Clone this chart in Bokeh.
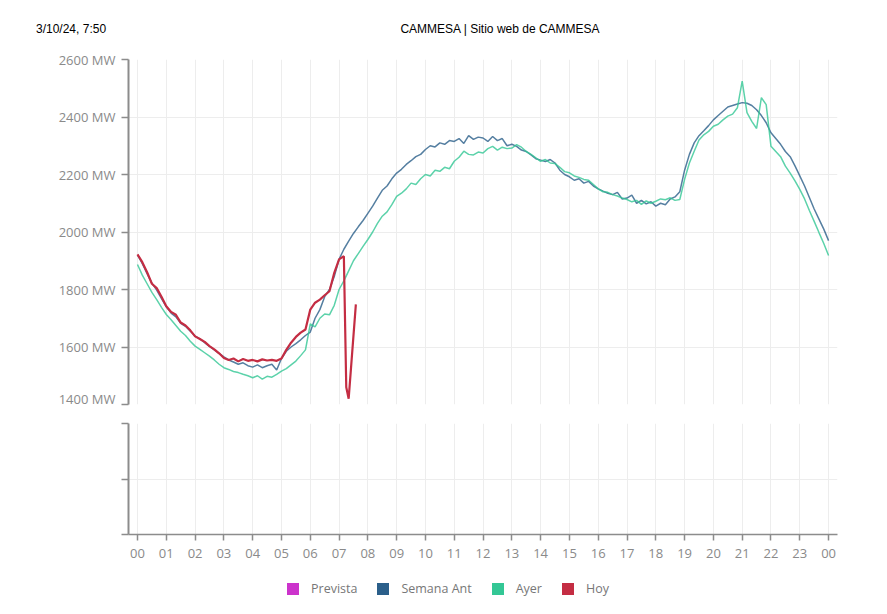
from bokeh.plotting import figure
from bokeh.layouts import column
from bokeh.models import (FixedTicker, Grid, LinearAxis, Legend, LegendItem, Range1d,
                          ColumnDataSource, Div)
from bokeh.embed import file_html
from bokeh.resources import INLINE

# ---------------- data ----------------
hour_labels = ["00", "01", "02", "03", "04", "05", "06", "07", "08", "09", "10", "11",
               "12", "13", "14", "15", "16", "17", "18", "19", "20", "21", "22", "23", "00"]
y_ticks = [1400, 1600, 1800, 2000, 2200, 2400, 2600]
series_names = ["Prevista", "Semana Ant", "Ayer", "Hoy"]
series_colors = ["#cc33cc", "#2b5f8a", "#33c795", "#c42d43"]
header_left = "3/10/24, 7:50"
header_center = "CAMMESA | Sitio web de CAMMESA"

# 10-minute samples, 00:00 .. 24:00
step_minutes = 10
semana_ant = [
    1920, 1890, 1855, 1822, 1798, 1768,
    1740, 1718, 1705, 1682, 1672, 1655,
    1638, 1628, 1615, 1602, 1590, 1578,
    1566, 1555, 1548, 1540, 1545, 1535,
    1530, 1538, 1528, 1535, 1540, 1520,
    1560, 1585, 1600, 1612, 1625, 1640,
    1652, 1700, 1730, 1775, 1800, 1845,
    1905, 1940, 1968, 1995, 2018, 2040,
    2065, 2090, 2118, 2145, 2160, 2185,
    2205, 2218, 2235, 2248, 2262, 2270,
    2287, 2300, 2296, 2310, 2305, 2318,
    2315, 2325, 2308, 2335, 2322, 2330,
    2327, 2315, 2332, 2318, 2325, 2300,
    2305, 2298, 2285, 2280, 2268, 2255,
    2250, 2245, 2252, 2240, 2215, 2200,
    2192, 2180, 2185, 2170, 2176, 2160,
    2150, 2142, 2135, 2130, 2138, 2115,
    2118, 2128, 2100, 2110, 2098, 2105,
    2090, 2100, 2095, 2115, 2122, 2140,
    2215, 2270, 2310, 2335, 2352, 2370,
    2390, 2405, 2420, 2435, 2440, 2445,
    2450, 2448, 2440, 2425, 2405, 2380,
    2345, 2325, 2305, 2280, 2262, 2230,
    2195, 2160, 2120, 2080, 2045, 2010,
    1970,
]
ayer = [
    1887, 1850, 1820, 1790, 1765, 1738,
    1713, 1695, 1675, 1655, 1640, 1620,
    1603, 1592, 1580, 1568, 1555, 1540,
    1528, 1522, 1515, 1511, 1505, 1500,
    1493, 1500, 1488, 1498, 1495, 1505,
    1516, 1525, 1538, 1551, 1570, 1590,
    1680, 1670, 1700, 1715, 1712, 1745,
    1800, 1830, 1865, 1900, 1925, 1950,
    1974, 2000, 2030, 2055, 2070, 2095,
    2124, 2135, 2150, 2170, 2165, 2185,
    2200, 2195, 2215, 2211, 2225, 2220,
    2246, 2260, 2281, 2270, 2268, 2278,
    2275, 2290, 2298, 2285, 2295, 2290,
    2292, 2304, 2295, 2280, 2270, 2258,
    2246, 2252, 2240, 2238, 2225, 2210,
    2206, 2195, 2190, 2183, 2180, 2165,
    2150, 2140, 2138, 2130, 2125, 2118,
    2113, 2105, 2110, 2096, 2108, 2100,
    2107, 2115, 2112, 2119, 2110, 2113,
    2183, 2240, 2281, 2320, 2338, 2350,
    2368, 2375, 2390, 2403, 2410, 2432,
    2525, 2415, 2385, 2360, 2467, 2443,
    2298, 2280, 2262, 2229, 2205, 2178,
    2148, 2115, 2075, 2037, 1998, 1960,
    1918,
]
# today: minutes after midnight and MW
hoy_minutes = list(range(0, 440, 10)) + [435, 440, 455]
hoy = [
    1922, 1895, 1860, 1820, 1805, 1775,
    1742, 1722, 1712, 1685, 1675, 1658,
    1637, 1628, 1618, 1603, 1592, 1578,
    1562, 1555, 1560, 1550, 1558, 1552,
    1555, 1550, 1557, 1553, 1555, 1552,
    1560, 1590, 1615, 1635, 1650, 1661,
    1730, 1754, 1765, 1780, 1794, 1858,
    1905, 1916,
    1460, 1420, 1748,
]

t_full = [i * step_minutes / 60 for i in range(len(semana_ant))]
t_hoy = [m / 60 for m in hoy_minutes]

FONT = "Open Sans"
AXIS_COLOR = "#8c8c8c"
LABEL_COLOR = "#8a8a8a"
GRID_COLOR = "#ededed"
X0, X1 = -0.3126, 24.31
W = 880
BL, BR = 128, 43

# ---------------- header ----------------
hdr = Div(width=W, height=37, text=(
    '<div style="position:relative;width:%dpx;height:37px;font-family:\'Liberation Sans\';'
    'font-size:12px;color:#000;">'
    '<span style="position:absolute;left:31px;top:16px;">%s</span>'
    '<span style="position:absolute;left:-5px;width:1000px;top:16px;text-align:center;">%s</span>'
    '</div>') % (W, header_left, header_center))

# ---------------- top panel ----------------
p = figure(width=W, height=360, x_range=Range1d(X0, X1), y_range=Range1d(1400, 2600),
           toolbar_location=None, output_backend="svg",
           min_border_left=BL, min_border_right=BR, min_border_top=12, min_border_bottom=3,
           x_axis_location=None, y_axis_location=None, outline_line_color=None)
yax = LinearAxis(ticker=FixedTicker(ticks=y_ticks),
                 major_label_overrides={v: f"{v} MW" for v in y_ticks})
yax.axis_line_color = AXIS_COLOR
yax.axis_line_width = 2
yax.major_tick_line_color = AXIS_COLOR
yax.major_tick_line_width = 1.5
yax.major_tick_out = 7
yax.major_tick_in = 0
yax.minor_tick_line_color = None
yax.major_label_text_font = FONT
yax.major_label_text_font_size = "13px"
yax.major_label_text_color = LABEL_COLOR
yax.major_label_standoff = 6
p.add_layout(yax, "left")
p.xgrid.visible = False
p.ygrid.visible = False
p.add_layout(Grid(dimension=0, ticker=FixedTicker(ticks=list(range(25))), grid_line_color=GRID_COLOR))
p.add_layout(Grid(dimension=1, ticker=FixedTicker(ticks=y_ticks), grid_line_color=GRID_COLOR))

p.line(t_full, semana_ant, line_color=series_colors[1], line_width=1.5, line_alpha=0.8)
p.line(t_full, ayer, line_color=series_colors[2], line_width=1.5, line_alpha=0.8)
p.line(t_hoy, hoy, line_color=series_colors[3], line_width=2.2)

# ---------------- bottom panel ----------------
q = figure(width=W, height=160, x_range=Range1d(X0, X1), y_range=Range1d(0, 2),
           toolbar_location=None, output_backend="svg",
           min_border_left=BL, min_border_right=BR, min_border_top=16, min_border_bottom=33,
           x_axis_location=None, y_axis_location=None, outline_line_color=None)
q.xgrid.visible = False
q.ygrid.visible = False
q.add_layout(Grid(dimension=0, ticker=FixedTicker(ticks=list(range(25))), grid_line_color=GRID_COLOR))
q.add_layout(Grid(dimension=1, ticker=FixedTicker(ticks=[1]), grid_line_color=GRID_COLOR))

qy = LinearAxis(ticker=FixedTicker(ticks=[0, 1, 2]), major_label_overrides={0: "", 1: "", 2: ""})
qy.axis_line_color = AXIS_COLOR
qy.axis_line_width = 2
qy.major_tick_line_color = AXIS_COLOR
qy.major_tick_line_width = 1.5
qy.major_tick_out = 7
qy.major_tick_in = 0
qy.minor_tick_line_color = None
qy.major_label_text_font_size = "1px"
qy.major_label_standoff = 0
q.add_layout(qy, "left")

qx = LinearAxis(ticker=FixedTicker(ticks=list(range(25))),
                major_label_overrides={i: lab for i, lab in enumerate(hour_labels)})
qx.axis_line_color = AXIS_COLOR
qx.axis_line_width = 1.5
qx.major_tick_line_color = AXIS_COLOR
qx.major_tick_line_width = 1.5
qx.major_tick_out = 6
qx.major_tick_in = 0
qx.minor_tick_line_color = None
qx.major_label_text_font = FONT
qx.major_label_text_font_size = "13px"
qx.major_label_text_color = LABEL_COLOR
qx.major_label_standoff = 8
q.add_layout(qx, "below")

# ---------------- legend strip ----------------
lg = figure(width=W, height=37, x_range=Range1d(0, 1), y_range=Range1d(0, 1),
            toolbar_location=None, output_backend="svg",
            min_border_left=BL, min_border_right=BR, min_border_top=0, min_border_bottom=0,
            x_axis_location=None, y_axis_location=None, outline_line_color=None)
lg.xgrid.visible = False
lg.ygrid.visible = False
items = []
for name, col in zip(series_names, series_colors):
    src = ColumnDataSource(dict(l=[float("nan")], r=[float("nan")], b=[float("nan")], t=[float("nan")]))
    r = lg.quad(left="l", right="r", bottom="b", top="t", source=src, fill_color=col, line_color=None)
    items.append(LegendItem(label=name, renderers=[r]))
leg = Legend(items=items, orientation="horizontal", location=(157, 7))
leg.glyph_width = 15
leg.glyph_height = 15
leg.label_text_font = FONT
leg.label_text_font_size = "12.5px"
leg.label_text_color = "#777777"
leg.label_standoff = 11
leg.spacing = 18
leg.padding = 4
leg.margin = 0
leg.border_line_color = None
leg.background_fill_alpha = 0
lg.add_layout(leg, "center")

layout = column(hdr, p, q, lg, spacing=0)
open("out.html", "w").write(file_html(layout, INLINE))
